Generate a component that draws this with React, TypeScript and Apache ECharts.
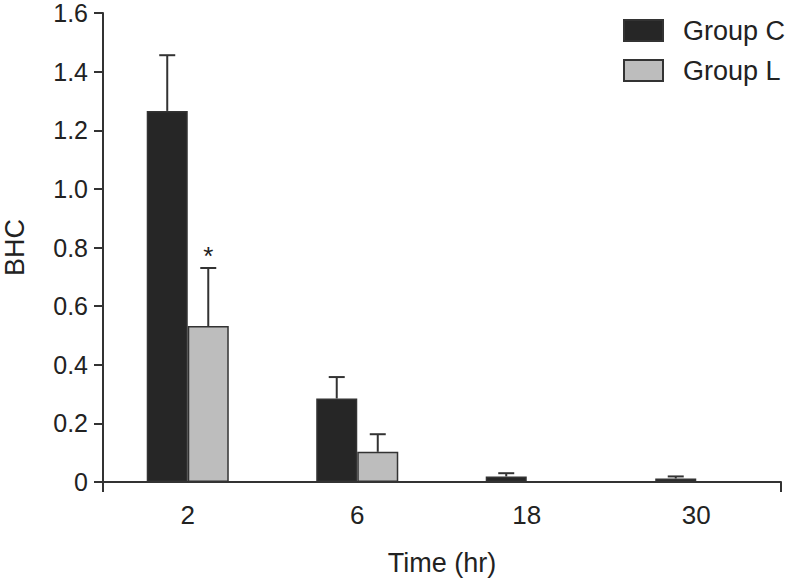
import React, { useEffect, useRef } from "react";
import * as echarts from "echarts";

const categories = ["2", "6", "18", "30"];
const groupC = [1.266, 0.285, 0.019, 0.012];
const groupCErr = [0.19, 0.073, 0.011, 0.007];
const groupL = [0.532, 0.103, 0, 0];
const groupLErr = [0.198, 0.06, 0, 0];
const groupLMarks = ["*", "", "", ""];
const yTicks = { min: 0, max: 1.6, interval: 0.2 };

const FONT = "'Liberation Sans', Arial, sans-serif";
const INK = "#222";

export default function App() {
  const ref = useRef<HTMLDivElement>(null);
  useEffect(() => {
    if (!ref.current) return;
    const chart = echarts.init(ref.current, null, { renderer: "svg" });
    const gapFrac = 0.516;
    const makeErr = (vals: number[], errs: number[], marks: string[] | null, side: number) => ({
      type: "custom",
      xAxisIndex: 0,
      yAxisIndex: 0,
      z: 1,
      silent: true,
      encode: { x: 0, y: 1 },
      data: vals.map((v, i) => [i, v, errs[i]]),
      renderItem: (params: any, api: any) => {
        const idx = api.value(0);
        const v = api.value(1);
        const e = api.value(2);
        const mark = marks ? marks[idx] : "";
        const band = api.size([1, 0])[0];
        const bw = (band * (1 - gapFrac)) / 2;
        const base = api.coord([idx, v]);
        const top = api.coord([idx, v + e]);
        const cx = base[0] + (side * bw) / 2;
        const children: any[] = [];
        if (e > 0) {
          children.push({
            type: "line",
            shape: { x1: cx, y1: base[1], x2: cx, y2: top[1] },
            style: { stroke: "#333", lineWidth: 2 },
          });
          children.push({
            type: "line",
            shape: { x1: cx - 8, y1: top[1], x2: cx + 8, y2: top[1] },
            style: { stroke: "#333", lineWidth: 2 },
          });
        }
        if (mark) {
          children.push({
            type: "text",
            style: {
              text: mark,
              x: cx,
              y: top[1] - 12,
              textAlign: "center",
              textVerticalAlign: "middle",
              font: `26px ${FONT}`,
              fill: INK,
            },
          });
        }
        return { type: "group", children };
      },
    });

    chart.setOption({
      animation: false,
      backgroundColor: "#fff",
      textStyle: { fontFamily: FONT },
      grid: { left: 103, right: 8, top: 13, bottom: 99, containLabel: false, outerBoundsMode: "none" },
      legend: {
        orient: "vertical",
        left: 618,
        top: 12,
        icon: "rect",
        itemWidth: 39,
        itemHeight: 21,
        itemGap: 13,
        textStyle: { fontSize: 27, color: INK, fontFamily: FONT, padding: [0, 0, 0, 15] },
        data: ["Group C", "Group L"],
      },
      xAxis: [
        {
          type: "category",
          data: categories,
          name: "Time (hr)",
          nameLocation: "middle",
          nameGap: 67,
          nameTextStyle: { fontSize: 27, color: INK, fontFamily: FONT },
          axisLine: { lineStyle: { color: "#333", width: 2 } },
          axisTick: { alignWithLabel: true, length: 10, lineStyle: { color: "#333", width: 2 } },
          axisLabel: { fontSize: 26, color: INK, margin: 20, fontFamily: FONT },
        },
        {
          type: "value",
          min: 0,
          max: 4,
          interval: 4,
          position: "bottom",
          axisLine: { show: false },
          axisTick: { show: true, length: 10, lineStyle: { color: "#333", width: 2 } },
          axisLabel: { show: false },
          splitLine: { show: false },
        },
      ],
      yAxis: {
        type: "value",
        min: yTicks.min,
        max: yTicks.max,
        interval: yTicks.interval,
        name: "BHC",
        nameLocation: "middle",
        nameGap: 77,
        nameTextStyle: { fontSize: 27, lineHeight: 23, color: INK, fontFamily: FONT },
        axisLine: { show: true, lineStyle: { color: "#333", width: 2 } },
        axisTick: { show: true, length: 9, lineStyle: { color: "#333", width: 2 } },
        axisLabel: {
          fontSize: 25,
          lineHeight: 22,
          color: INK,
          margin: 15,
          fontFamily: FONT,
          formatter: (v: number) => (v === 0 ? "0" : v.toFixed(1)),
        },
        splitLine: { show: false },
      },
      series: [
        {
          name: "Group C",
          type: "bar",
          data: groupC,
          barGap: "0%",
          barCategoryGap: `${gapFrac * 100}%`,
          itemStyle: { color: "#262626", borderColor: "#333", borderWidth: 1.5 },
          z: 2,
        },
        {
          name: "Group L",
          type: "bar",
          data: groupL,
          barGap: "0%",
          barCategoryGap: `${gapFrac * 100}%`,
          itemStyle: { color: "#bdbdbd", borderColor: "#333", borderWidth: 1.5 },
          z: 2,
        },
        makeErr(groupC, groupCErr, null, -1),
        makeErr(groupL, groupLErr, groupLMarks, 1),
      ],
    });
    return () => chart.dispose();
  }, []);
  return <div ref={ref} style={{ width: 789, height: 581, position: "absolute", left: 0, top: 0 }} />;
}
